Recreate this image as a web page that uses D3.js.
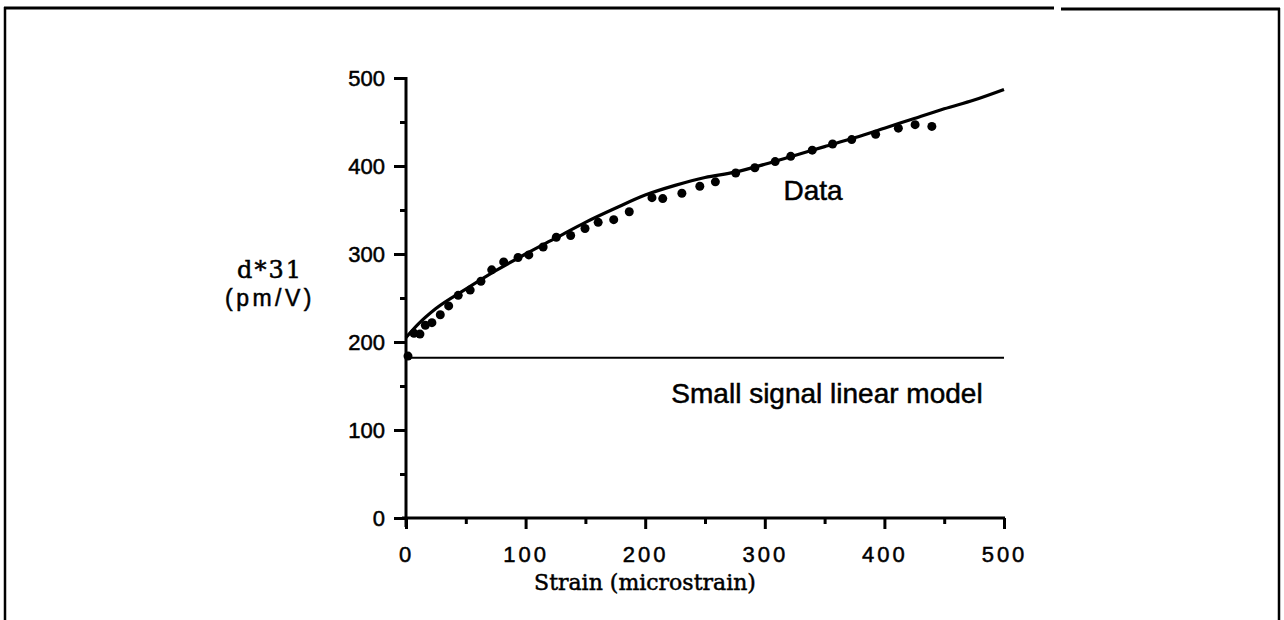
<!DOCTYPE html>
<html>
<head>
<meta charset="utf-8">
<script src="https://cdn.jsdelivr.net/npm/d3@7"></script>
<style>
  html, body { margin: 0; padding: 0; background: #fff; }
  svg { display: block; }
  text { stroke: #000; stroke-width: 0.5px; }
</style>
</head>
<body>
<svg id="chart" width="1284" height="620"></svg>
<script>
// ---- data ----
const xTicks = [0, 100, 200, 300, 400, 500];
const xMinorTicks = [50, 150, 250, 350, 450];
const yTicks = [0, 100, 200, 300, 400, 500];
const yMinorTicks = [50, 150, 250, 350, 450];

// measured d*31 points (strain, pm/V)
const dataStrain = [0, 5, 10, 14.5, 20, 27, 34, 42, 52, 61, 70, 80, 92, 101, 113, 124, 136, 148, 159, 172, 185,
  204, 213, 229, 244, 257, 274, 290, 307, 320, 338, 355, 371, 391, 410, 424, 438];
const dataD31 = [184, 210, 209, 219, 222, 231, 241, 253, 259, 269, 282, 291, 296, 299, 308, 319, 321, 329, 336, 339, 348,
  364, 363, 369, 377, 382, 392, 398, 405, 411, 418, 425, 430, 436, 443, 447, 445];

// model curve
const modelStrain = [0, 10, 25, 50, 75, 100, 125, 150, 175, 200, 225, 250, 275, 300, 325, 350, 375, 400, 425, 450, 475, 500];
const modelD31 = [205, 220, 238, 260, 281, 300, 318, 336, 352, 367, 378, 387, 393, 402, 412, 422, 432, 443, 454, 465, 475, 487];

// small signal linear model
const linearStrain = [0, 500];
const linearD31 = [182, 182];

// ---- drawing ----
const svg = d3.select("#chart");
const x = d3.scaleLinear().domain([0, 500]).range([406, 1004]);
const y = d3.scaleLinear().domain([0, 500]).range([518, 78]);

// frame
const frame = svg.append("g").attr("stroke", "#000").attr("fill", "none");
frame.append("line").attr("x1", 4).attr("x2", 1054).attr("y1", 8).attr("y2", 8).attr("stroke-width", 3);
frame.append("line").attr("x1", 1061).attr("x2", 1280).attr("y1", 9).attr("y2", 9).attr("stroke-width", 3);
frame.append("line").attr("x1", 5).attr("x2", 5).attr("y1", 7).attr("y2", 620).attr("stroke-width", 2.5);
frame.append("line").attr("x1", 1279).attr("x2", 1279).attr("y1", 8).attr("y2", 620).attr("stroke-width", 2.5);

const sans = "'Liberation Sans', Arial, sans-serif";
const serif = "'DejaVu Serif', 'Liberation Serif', serif";

// x axis
const xAxis = svg.append("g").attr("transform", "translate(0,518)")
  .call(d3.axisBottom(x).tickValues(xTicks).tickSize(11).tickPadding(17).tickFormat(d3.format("d")));
const xAxisMinor = svg.append("g").attr("transform", "translate(0,518)")
  .call(d3.axisBottom(x).tickValues(xMinorTicks).tickSize(6).tickFormat(""));
[xAxis, xAxisMinor].forEach(g => {
  g.select(".domain").remove();
  g.selectAll(".tick line").attr("stroke", "#000").attr("stroke-width", 3);
});
xAxis.selectAll(".tick text").attr("font-family", sans).attr("font-size", 22)
  .attr("letter-spacing", "3px").attr("fill", "#000");
svg.append("line").attr("x1", x(0) - 4).attr("x2", x(500) + 1).attr("y1", y(0)).attr("y2", y(0))
  .attr("stroke", "#000").attr("stroke-width", 3);

// y axis
const yAxis = svg.append("g").attr("transform", "translate(406,0)")
  .call(d3.axisLeft(y).tickValues(yTicks).tickSize(12).tickPadding(9).tickFormat(d3.format("d")));
const yAxisMinor = svg.append("g").attr("transform", "translate(406,0)")
  .call(d3.axisLeft(y).tickValues(yMinorTicks).tickSize(6).tickFormat(""));
[yAxis, yAxisMinor].forEach(g => {
  g.select(".domain").remove();
  g.selectAll(".tick line").attr("stroke", "#000").attr("stroke-width", 3);
});
yAxis.selectAll(".tick text").attr("font-family", sans).attr("font-size", 22).attr("fill", "#000");
svg.append("line").attr("x1", x(0)).attr("x2", x(0)).attr("y1", y(500) - 1).attr("y2", y(0) + 9)
  .attr("stroke", "#000").attr("stroke-width", 3);

// linear model line
svg.append("path")
  .datum(linearStrain.map((s, i) => [s, linearD31[i]]))
  .attr("d", d3.line().x(d => x(d[0])).y(d => y(d[1])))
  .attr("fill", "none").attr("stroke", "#000").attr("stroke-width", 2);

// model curve
svg.append("path")
  .datum(modelStrain.map((s, i) => [s, modelD31[i]]))
  .attr("d", d3.line().curve(d3.curveMonotoneX).x(d => x(d[0])).y(d => y(d[1])))
  .attr("fill", "none").attr("stroke", "#000").attr("stroke-width", 3.2);

// data points
svg.append("g").selectAll("circle")
  .data(dataStrain.map((s, i) => [s, dataD31[i]]))
  .join("circle")
  .attr("cx", d => x(d[0]) + 2).attr("cy", d => y(d[1]))
  .attr("r", 4.5).attr("fill", "#000");

// labels
svg.append("text").attr("x", 813).attr("y", 200).attr("text-anchor", "middle")
  .attr("font-family", sans).attr("font-size", 28).text("Data");
svg.append("text").attr("x", 827).attr("y", 403).attr("text-anchor", "middle")
  .attr("font-family", sans).attr("font-size", 28).text("Small signal linear model");
svg.append("text").attr("x", 645).attr("y", 590).attr("text-anchor", "middle")
  .attr("font-family", serif).attr("font-size", 22).text("Strain (microstrain)");
svg.append("text").attr("x", 270).attr("y", 278).attr("text-anchor", "middle")
  .attr("font-family", serif).attr("font-size", 24).attr("letter-spacing", "2px").text("d*31");
svg.append("text").attr("x", 270).attr("y", 306).attr("text-anchor", "middle")
  .attr("font-family", sans).attr("font-size", 23).attr("letter-spacing", "3.5px").text("(pm/V)");
</script>
</body>
</html>
